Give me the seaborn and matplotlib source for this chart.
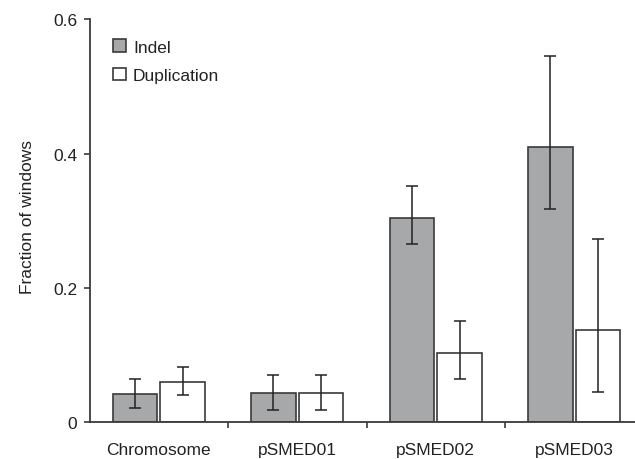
import matplotlib
matplotlib.use("Agg")
import matplotlib.pyplot as plt
import seaborn as sns
import pandas as pd
import numpy as np
from matplotlib.patches import Patch

categories = ["Chromosome", "pSMED01", "pSMED02", "pSMED03"]
series = ["Indel", "Duplication"]
indel_vals = [0.042, 0.043, 0.304, 0.410]
indel_lo = [0.022, 0.018, 0.265, 0.318]
indel_hi = [0.064, 0.070, 0.352, 0.546]
dup_vals = [0.060, 0.043, 0.103, 0.137]
dup_lo = [0.041, 0.018, 0.064, 0.045]
dup_hi = [0.083, 0.070, 0.151, 0.273]
yticks = [0, 0.2, 0.4, 0.6]
ytick_labels = ["0", "0.2", "0.4", "0.6"]

sns.set_theme(style="ticks")
plt.rcParams["font.family"] = ["Liberation Sans", "DejaVu Sans"]
plt.rcParams["font.size"] = 12.5

df = pd.DataFrame({
    "category": categories * 2,
    "type": ["Indel"] * 4 + ["Duplication"] * 4,
    "value": indel_vals + dup_vals,
})

fig = plt.figure(figsize=(6.35, 4.6), dpi=100)
ax = fig.add_axes([89.5 / 635, 36.7 / 460, 554 / 635, 403 / 460])

edge = "#3a3a3a"
sns.barplot(data=df, x="category", y="value", hue="type", order=categories,
            hue_order=series, palette={"Indel": "#a7a8aa", "Duplication": "#ffffff"},
            width=0.686, gap=0.06, errorbar=None, legend=False,
            edgecolor=edge, linewidth=1.2, saturation=1, ax=ax)

for cont, vals, lo, hi in zip(ax.containers, [indel_vals, dup_vals],
                              [indel_lo, dup_lo], [indel_hi, dup_hi]):
    xs = [b.get_x() + b.get_width() / 2 for b in cont]
    v = np.array(vals)
    yerr = np.vstack([v - np.array(lo), np.array(hi) - v])
    ax.errorbar(xs, v, yerr=yerr, fmt="none", ecolor="#222222",
                elinewidth=1.1, capsize=4.0, capthick=1.1, zorder=5)

ax.set_xlim(-0.5, 3.5)
ax.set_ylim(0, 0.6)
ax.set_yticks(yticks)
ax.set_yticklabels(ytick_labels)
ax.set_xticks(range(len(categories)))
ax.set_xticklabels(categories)
ax.set_xticks([0.5, 1.5, 2.5], minor=True)
ax.tick_params(axis="x", which="major", length=0, pad=14, labelsize=12.5, colors="#222222")
ax.tick_params(axis="x", which="minor", length=4, width=1.2, color=edge, direction="out")
ax.tick_params(axis="y", length=4, width=1.2, color=edge, labelsize=12.5,
               labelcolor="#222222", pad=5)
ax.set_xlabel("")
ax.set_ylabel("Fraction of windows", fontsize=12.5, color="#222222")
ax.yaxis.set_label_coords(-0.098, 0.513)
for s in ["top", "right"]:
    ax.spines[s].set_visible(False)
for s in ["left", "bottom"]:
    ax.spines[s].set_color(edge)
    ax.spines[s].set_linewidth(1.3)

handles = [Patch(facecolor="#a7a8aa", edgecolor=edge, linewidth=1.2, label="Indel"),
           Patch(facecolor="#ffffff", edgecolor=edge, linewidth=1.2, label="Duplication")]
ax.legend(handles=handles, loc="upper left", bbox_to_anchor=(0.03, 0.968),
          frameon=False, handlelength=0.75, handleheight=0.75, handletextpad=0.4,
          labelspacing=0.75, fontsize=12.5, labelcolor="#222222", borderaxespad=0)

fig.savefig("out.png", dpi=100)
